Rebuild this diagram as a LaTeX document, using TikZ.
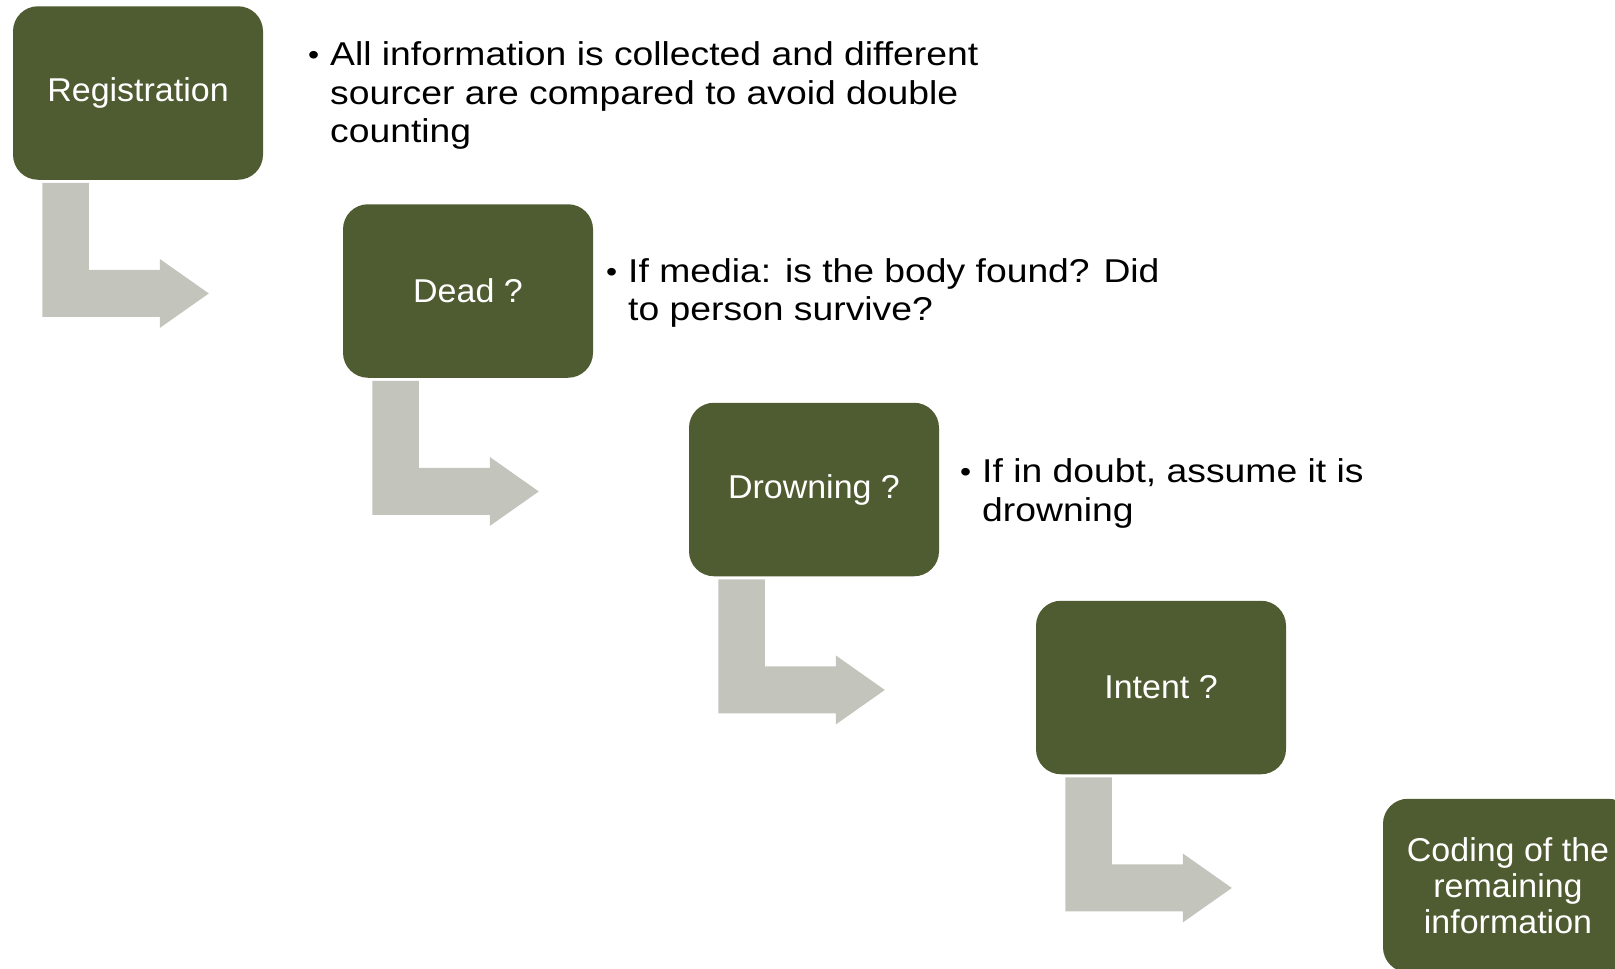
\documentclass[tikz,border=0pt]{standalone}
\usepackage{fontspec}
\newfontfamily\boxfont[FakeStretch=1.03]{Liberation Sans}
\newfontfamily\notefont[FakeStretch=1.13]{Liberation Sans}
\usetikzlibrary{calc}
\definecolor{boxgreen}{RGB}{79,91,49}
\definecolor{arrowgray}{RGB}{195,197,189}
\newcommand\bentarrow[1]{%
  \fill[arrowgray] ($(#1.south west)+(29.5,3)$) -- ($(#1.south west)+(76,3)$)
    -- ($(#1.south west)+(76,90)$) -- ($(#1.south west)+(147,90)$)
    -- ($(#1.south west)+(147,79)$) -- ($(#1.south west)+(196,113.5)$)
    -- ($(#1.south west)+(147,148)$) -- ($(#1.south west)+(147,137)$)
    -- ($(#1.south west)+(29.5,137)$) -- cycle;}
\newcommand\bul{\makebox[0pt][r]{\raisebox{1pt}{\fontsize{28}{28}\selectfont •}\hspace{11pt}}}
\begin{document}
\begin{tikzpicture}[x=1pt,y=-1pt,
  stepbox/.style={draw=none, fill=boxgreen, rounded corners=25pt,
    minimum width=250pt, minimum height=173.5pt, inner sep=0pt,
    text=white, align=center, font=\boxfont\fontsize{33}{36}\selectfont},
  note/.style={anchor=base west, inner sep=0pt, text=black,
    font=\notefont\fontsize{33}{38.6}\selectfont}]
\useasboundingbox (0,0) rectangle (1615,969);
\begin{scope}
\clip (0,0) rectangle (1615,969);
\node[stepbox] (reg) at (138,93) {\raisebox{-2pt}{Registration}};
\node[stepbox] (dead) at (468,291) {\raisebox{-1pt}{Dead ?}};
\node[stepbox] (drown) at (814,489.5) {\raisebox{-1pt}{Drowning ?}};
\node[stepbox] (intent) at (1161,687.5) {\raisebox{-1pt}{Intent ?}};
\node[stepbox] (coding) at (1508,885.5) {Coding of the\\remaining\\information};
\end{scope}
\bentarrow{reg}
\bentarrow{dead}
\bentarrow{drown}
\bentarrow{intent}
\node[note] (n1) at (330,65.5) {\parbox[t]{700pt}{\raggedright\bul All information is collected and different\\sourcer are compared to avoid double\\counting}};
\node[note] (n2) at (628,282) {\parbox[t]{600pt}{\raggedright\bul If media: is the body found? Did\\to person survive?}};
\node[note] (n3) at (982,482.5) {\parbox[t]{500pt}{\raggedright\bul If in doubt, assume it is\\drowning}};
\end{tikzpicture}
\end{document}
